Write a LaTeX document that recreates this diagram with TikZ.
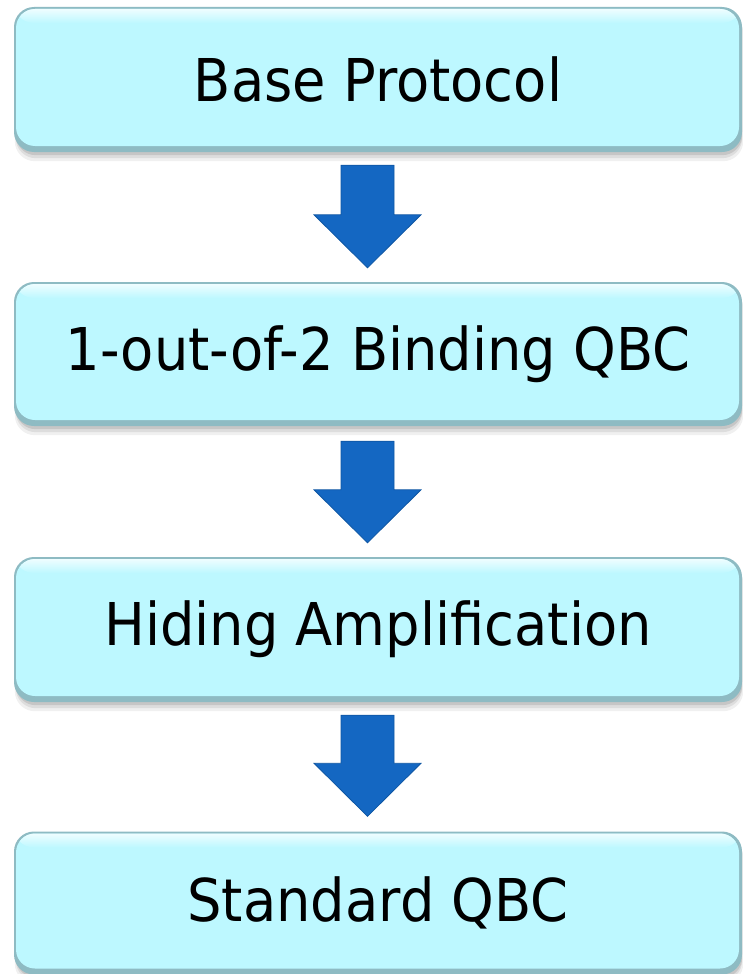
\documentclass[tikz,border=0pt]{standalone}
\usepackage{fontspec}
\setmainfont{DejaVu Sans}[FakeStretch=0.92]
\usetikzlibrary{calc,backgrounds}
\definecolor{face}{HTML}{BDF8FF}
\definecolor{bevel}{HTML}{8EBBC3}
\definecolor{arrowblue}{HTML}{1467C2}
\definecolor{arrowedge}{HTML}{0E56A3}
\tikzset{
  qbox/.style={minimum width=728pt, minimum height=#1, rounded corners=20pt,
    fill=bevel, inner sep=0pt, text=black, font=\fontsize{59}{70}\selectfont,
    path picture={
      \fill[face, rounded corners=19pt]
        ($(path picture bounding box.north west)+(2pt,-2pt)$) rectangle
        ($(path picture bounding box.south east)+(-3pt,6pt)$);
      \begin{scope}
        \clip[rounded corners=19pt]
          ($(path picture bounding box.north west)+(2pt,-2pt)$) rectangle
          ($(path picture bounding box.south east)+(-3pt,6pt)$);
        \shade[top color=white!85!face, bottom color=face]
          ($(path picture bounding box.north west)+(0pt,0pt)$) rectangle
          ($(path picture bounding box.north east)+(0pt,-16pt)$);
      \end{scope}
    }},
  qshadow/.style={fill=black, opacity=#1, rounded corners=20pt},
  blockarrow/.style={fill=arrowblue, draw=arrowedge, line width=0.8pt, line join=miter}
}
\begin{document}
\begin{tikzpicture}[x=1pt,y=-1pt]
\useasboundingbox (0,0) rectangle (743,974);
\node[qbox=145pt] (b1) at (378,79.5) {Base Protocol};
\node[qbox=144pt] (b2) at (378,354) {1-out-of-2 Binding QBC};
\node[qbox=145pt] (b3) at (378,629.5) {Hiding Amplification};
\node[qbox=143pt] (b4) at (378,903) {Standard QBC};
\begin{scope}[on background layer]
  \foreach \b in {b1,b2,b3,b4}{
    \fill[qshadow=0.06] ($(\b.north west)+(1,6)$) rectangle ($(\b.south east)+(1,9)$);
    \fill[qshadow=0.08] ($(\b.north west)+(2,5)$) rectangle ($(\b.south east)+(0,6)$);
    \fill[qshadow=0.10] ($(\b.north west)+(2,3)$) rectangle ($(\b.south east)+(0,3)$);
  }
\end{scope}
\foreach \u/\v/\s/\t in {b1/b2/13/-14, b2/b3/15/-14, b3/b4/13/-15}{
  \coordinate (s) at ($(\u.south)+(-10.5,\s)$);
  \coordinate (t) at ($(\v.north)+(-10.5,\t)$);
  \draw[blockarrow] ($(s)+(-26.5,0)$) -- ($(s)+(26.5,0)$) -- ($(t)+(26.5,-53)$)
    -- ($(t)+(53.5,-53)$) -- (t) -- ($(t)+(-53.5,-53)$) -- ($(t)+(-26.5,-53)$) -- cycle;
}
\end{tikzpicture}
\end{document}
